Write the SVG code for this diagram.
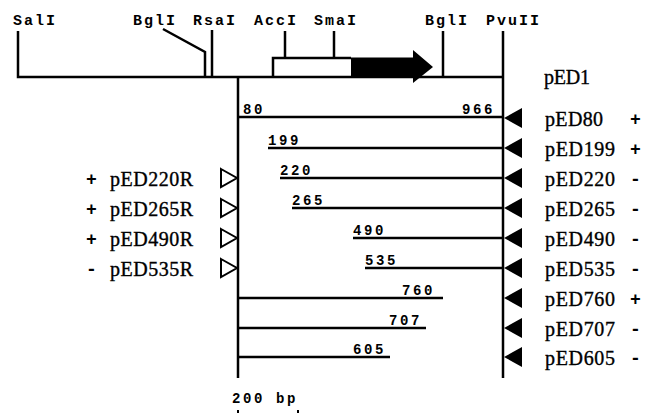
<svg xmlns="http://www.w3.org/2000/svg" width="645" height="413" viewBox="0 0 645 413">
<style>
.ln{stroke:#000;stroke-width:2.5;fill:none;stroke-linecap:butt}
.site{font-family:"Liberation Mono",monospace;font-weight:bold;font-size:15px;letter-spacing:2px;fill:#000}
.num{font-family:"Liberation Mono",monospace;font-weight:bold;font-size:14px;letter-spacing:2.6px;fill:#000}
.lab{font-family:"Liberation Serif",serif;font-size:20px;fill:#000;stroke:#000;stroke-width:0.35}
.sg{font-family:"Liberation Mono",monospace;font-weight:bold;font-size:18px;fill:#000}
</style>
<rect width="645" height="413" fill="#fff"/>
<g id="map">
<path class="ln" d="M18 31V77H503"/>
<path class="ln" d="M163 29L205 52V77"/>
<path class="ln" d="M212 30V77"/>
<path class="ln" d="M285 31V58"/>
<path class="ln" d="M334 31V58"/>
<path class="ln" d="M443 31V77"/>
<path class="ln" d="M273 77V58H351"/>
<path d="M351 57.5H413V50L433 67L413 83V77.5H351Z" fill="#000"/>
<text class="site" x="13" y="25">SalI</text>
<text class="site" x="133" y="25">BglI</text>
<text class="site" x="193" y="25">RsaI</text>
<text class="site" x="254" y="25">AccI</text>
<text class="site" x="314" y="25">SmaI</text>
<text class="site" x="425" y="25">BglI</text>
<text class="site" x="486" y="25">PvuII</text>
<text class="lab" x="544" y="84" textLength="46" lengthAdjust="spacing">pED1</text>
</g>
<g id="axes">
<path class="ln" d="M238 77V378"/>
<path class="ln" d="M503 31V378"/>
</g>
<g id="connectors">
<path class="ln" d="M238 117H503"/>
<path class="ln" d="M268 148H503"/>
<path class="ln" d="M280 178H503"/>
<path class="ln" d="M292 208H503"/>
<path class="ln" d="M353 238H503"/>
<path class="ln" d="M365 268H503"/>
<path class="ln" d="M238 298H443"/>
<path class="ln" d="M238 328H426"/>
<path class="ln" d="M238 357H390"/>
</g>
<g id="numbers">
<text class="num" x="243" y="114">80</text>
<text class="num" x="462" y="114">966</text>
<text class="num" x="268" y="145">199</text>
<text class="num" x="280" y="175">220</text>
<text class="num" x="292" y="205">265</text>
<text class="num" x="353" y="235">490</text>
<text class="num" x="365" y="265">535</text>
<text class="num" x="402" y="295">760</text>
<text class="num" x="389" y="325">707</text>
<text class="num" x="353" y="354">605</text>
</g>
<g id="right-markers" fill="#000">
<path d="M504 118L522 108V128Z"/>
<path d="M504 148L522 138V158Z"/>
<path d="M504 178L522 168V188Z"/>
<path d="M504 208L522 198V218Z"/>
<path d="M504 238L522 228V248Z"/>
<path d="M504 268L522 258V278Z"/>
<path d="M504 298L522 288V308Z"/>
<path d="M504 328L522 318V338Z"/>
<path d="M504 357L522 347V367Z"/>
</g>
<g id="left-markers" fill="#fff" stroke="#000" stroke-width="2">
<path d="M221 169L237 178L221 187Z"/>
<path d="M221 199L237 208L221 217Z"/>
<path d="M221 229L237 238L221 247Z"/>
<path d="M221 259L237 268L221 277Z"/>
</g>
<g id="right-labels">
<text class="lab" x="545" y="126" textLength="58" lengthAdjust="spacing">pED80</text><text class="sg" x="630" y="125">+</text>
<text class="lab" x="545" y="156" textLength="70" lengthAdjust="spacing">pED199</text><text class="sg" x="630" y="155">+</text>
<text class="lab" x="545" y="186" textLength="70" lengthAdjust="spacing">pED220</text><text class="sg" x="630" y="185">-</text>
<text class="lab" x="545" y="216" textLength="70" lengthAdjust="spacing">pED265</text><text class="sg" x="630" y="215">-</text>
<text class="lab" x="545" y="246" textLength="70" lengthAdjust="spacing">pED490</text><text class="sg" x="630" y="245">-</text>
<text class="lab" x="545" y="276" textLength="70" lengthAdjust="spacing">pED535</text><text class="sg" x="630" y="275">-</text>
<text class="lab" x="545" y="306" textLength="70" lengthAdjust="spacing">pED760</text><text class="sg" x="630" y="305">+</text>
<text class="lab" x="545" y="336" textLength="70" lengthAdjust="spacing">pED707</text><text class="sg" x="630" y="335">-</text>
<text class="lab" x="545" y="365" textLength="70" lengthAdjust="spacing">pED605</text><text class="sg" x="630" y="364">-</text>
</g>
<g id="left-labels">
<text class="sg" x="86" y="185">+</text><text class="lab" x="110" y="186" textLength="83" lengthAdjust="spacing">pED220R</text>
<text class="sg" x="86" y="215">+</text><text class="lab" x="110" y="216" textLength="83" lengthAdjust="spacing">pED265R</text>
<text class="sg" x="86" y="245">+</text><text class="lab" x="110" y="246" textLength="83" lengthAdjust="spacing">pED490R</text>
<text class="sg" x="86" y="275">-</text><text class="lab" x="110" y="276" textLength="83" lengthAdjust="spacing">pED535R</text>
</g>
<g id="scale">
<text class="num" x="232" y="403">200 bp</text>
<path stroke="#000" stroke-width="2" d="M238 410V413M298 410V413"/>
</g>
</svg>
